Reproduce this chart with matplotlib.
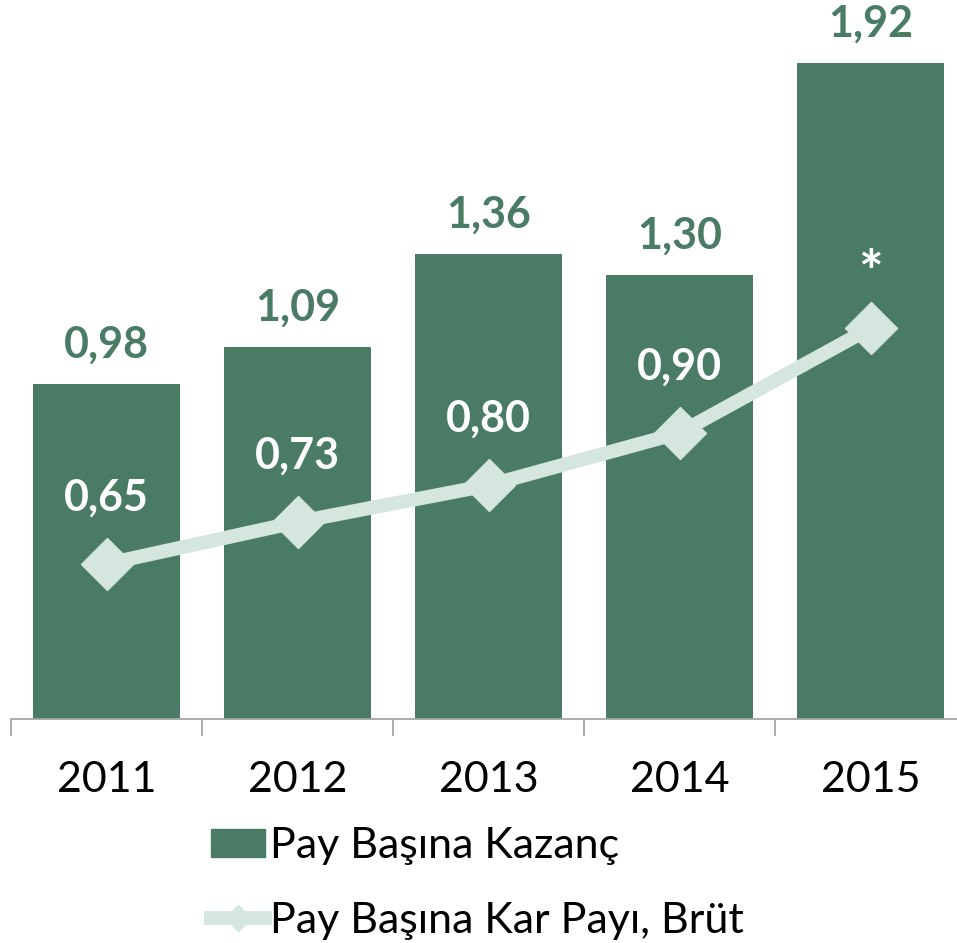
import matplotlib.pyplot as plt
from matplotlib.patches import Patch
from matplotlib.lines import Line2D

# data
years = ['2011', '2012', '2013', '2014', '2015']
eps = [0.98, 1.09, 1.36, 1.30, 1.92]          # Pay Başına Kazanç
dps = [0.65, 0.73, 0.80, 0.90, 1.10]          # Pay Başına Kar Payı, Brüt (2015 shown as *)
dps_labels = ['0,65', '0,73', '0,80', '0,90', '*']

bar_color = '#497b65'
line_color = '#d5e6df'
plt.rcParams['font.family'] = ['Lato', 'DejaVu Sans']

W, H = 957, 943
fig = plt.figure(figsize=(W / 100, H / 100), dpi=100)
ax = fig.add_axes([11 / W, (H - 719) / H, 955 / W, 719 / H])
ax2 = ax.twinx()

x = list(range(len(years)))
ax.bar(x, eps, width=0.77, color=bar_color, zorder=2)
ax.set_xlim(-0.5, 4.5)
ax.set_ylim(0, 2.105)
ax2.set_ylim(0.354, 1.726)

ax2.plot(x, dps, color=line_color, lw=10, marker='D', markersize=26,
         solid_joinstyle='miter', zorder=3)

# value labels
for i, v in enumerate(eps):
    ax.annotate(f'{v:.2f}'.replace('.', ','), (i, v), xytext=(0, 14),
                textcoords='offset points', ha='center', va='bottom',
                fontsize=31, fontweight='bold', color=bar_color)
for i, (v, lab) in enumerate(zip(dps, dps_labels)):
    star = lab == '*'
    ax2.annotate(lab, (i, v), xytext=(0, 38 if star else 48),
                 textcoords='offset points', ha='center', va='center',
                 fontsize=42 if star else 31, fontweight='bold', color='white')

# axes styling
for a in (ax, ax2):
    for s in ('top', 'right', 'left'):
        a.spines[s].set_visible(False)
    a.set_yticks([])
ax2.spines['bottom'].set_visible(False)
ax.spines['bottom'].set_color('#a6a6a6')
ax.spines['bottom'].set_linewidth(1.3)
ax.set_xticks(x)
ax.set_xticklabels(years, fontsize=31)
ax.tick_params(axis='x', which='major', length=0, pad=30)
ax.set_xticks([i - 0.5 for i in range(len(years) + 1)], minor=True)
ax.tick_params(axis='x', which='minor', length=12, width=1.3, color='#a6a6a6')

handles = [Patch(color=bar_color),
           Line2D([0], [0], color=line_color, lw=10, marker='D', markersize=13)]
fig.legend(handles, ['Pay Başına Kazanç', 'Pay Başına Kar Payı, Brüt'],
           loc='upper left', bbox_to_anchor=(211 / W, 1 - 827 / H),
           frameon=False, fontsize=31, borderpad=0, borderaxespad=0,
           handlelength=1.25, handleheight=0.63, handletextpad=0.12,
           labelspacing=0.85)

fig.savefig('out.png', dpi=100)
